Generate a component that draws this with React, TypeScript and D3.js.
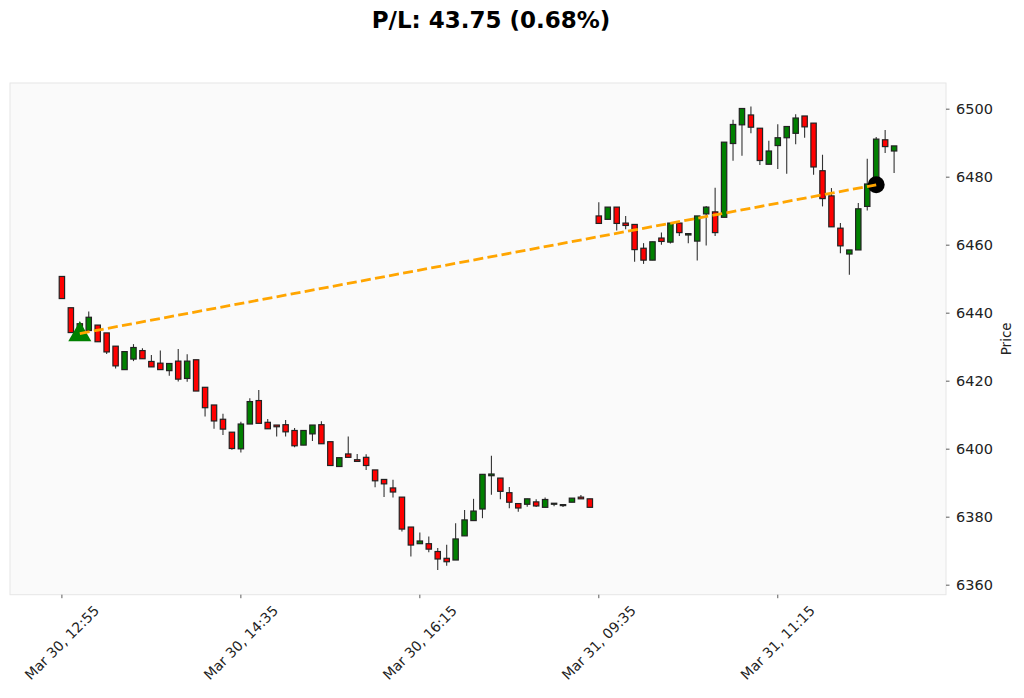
import React from "react";
import * as d3 from "d3";

const opens = [6450.8,6441.6,6436.9,6434.9,6436.5,6434.2,6430.3,6423.4,6426.5,6429.0,6425.8,6425.3,6423.1,6425.9,6420.8,6426.3,6418.2,6413.0,6408.8,6405.0,6400.1,6407.4,6414.3,6407.9,6407.1,6407.2,6405.5,6401.2,6404.5,6407.2,6402.2,6394.9,6398.6,6396.9,6397.6,6393.9,6391.1,6388.6,6385.9,6377.1,6372.2,6372.2,6369.9,6367.9,6367.4,6374.5,6379.0,6382.4,6392.2,6391.5,6387.2,6384.0,6383.8,6384.5,6382.9,6384.0,6383.6,6384.4,6385.9,6385.4,6468.6,6467.6,6471.2,6466.5,6466.1,6459.1,6455.6,6462.1,6460.9,6466.5,6463.0,6461.2,6469.2,6469.8,6468.2,6489.9,6495.4,6498.3,6494.4,6483.8,6489.3,6491.6,6492.9,6498.0,6495.9,6481.9,6474.5,6465.0,6457.4,6458.6,6471.4,6477.7,6491.0,6487.7];
const highs = [6450.8,6441.6,6437.5,6440.5,6436.5,6434.2,6430.3,6428.7,6430.9,6429.7,6427.7,6429.0,6425.2,6429.5,6427.9,6426.3,6418.2,6413.0,6410.4,6405.0,6408.1,6415.0,6417.4,6408.9,6407.1,6408.6,6406.2,6405.5,6407.1,6408.2,6402.2,6397.5,6403.7,6398.6,6398.5,6393.9,6391.1,6391.0,6385.9,6377.1,6375.5,6374.3,6370.9,6371.9,6378.2,6382.1,6385.4,6392.6,6398.1,6391.5,6388.9,6384.0,6385.4,6385.3,6385.8,6384.2,6383.8,6385.6,6386.5,6385.4,6472.6,6471.2,6471.2,6468.6,6466.1,6460.6,6461.0,6463.7,6466.5,6466.5,6463.4,6468.6,6471.5,6476.9,6490.3,6496.9,6500.2,6500.8,6494.4,6490.7,6495.6,6494.9,6498.5,6498.0,6495.9,6486.6,6476.8,6466.5,6458.6,6472.4,6485.4,6491.8,6493.9,6489.2];
const lows = [6444.3,6434.3,6433.9,6434.9,6431.6,6428.0,6423.7,6423.4,6425.9,6426.6,6424.2,6423.4,6421.6,6419.9,6419.8,6417.1,6409.6,6406.0,6404.2,6399.8,6399.0,6407.4,6407.6,6406.0,6403.7,6403.7,6400.6,6401.2,6402.4,6401.6,6395.2,6394.9,6397.6,6396.4,6393.9,6388.8,6385.9,6385.8,6375.8,6368.4,6372.2,6369.7,6364.5,6365.7,6367.4,6374.5,6379.0,6379.7,6386.6,6385.3,6382.6,6381.6,6383.1,6383.0,6382.9,6383.2,6383.0,6384.4,6385.4,6382.9,6466.4,6467.6,6464.3,6464.7,6455.1,6454.5,6455.6,6460.1,6460.5,6462.7,6460.6,6455.5,6459.9,6462.7,6468.2,6484.8,6486.3,6492.9,6483.6,6483.8,6482.4,6481.0,6489.7,6491.6,6480.7,6471.4,6465.4,6457.6,6451.3,6458.6,6470.2,6477.7,6487.1,6481.2];
const closes = [6444.3,6434.3,6433.9,6438.8,6431.6,6428.6,6424.5,6428.7,6429.9,6426.6,6424.2,6423.4,6425.2,6420.6,6425.9,6417.1,6412.2,6408.3,6405.9,6400.2,6407.4,6414.0,6407.6,6406.0,6406.6,6405.1,6401.0,6405.5,6407.1,6401.6,6395.2,6397.5,6397.6,6396.4,6395.2,6390.7,6389.8,6387.4,6376.5,6371.8,6373.0,6370.6,6367.7,6366.9,6373.6,6379.2,6381.8,6392.6,6392.7,6387.6,6384.4,6382.7,6385.4,6383.3,6385.2,6384.1,6383.7,6385.6,6385.4,6382.9,6466.4,6471.2,6466.4,6465.8,6458.7,6455.6,6461.0,6461.1,6466.5,6463.7,6463.4,6468.6,6471.2,6463.7,6490.3,6495.5,6500.2,6494.7,6484.9,6487.7,6491.6,6494.9,6497.4,6494.8,6483.0,6473.7,6465.4,6459.8,6458.6,6470.7,6478.0,6491.2,6489.0,6489.2];

const tickIndices = [0, 20, 40, 60, 80];
const tickLabels = ["Mar 30, 12:55", "Mar 30, 14:35", "Mar 30, 16:15", "Mar 31, 09:35", "Mar 31, 11:15"];
const priceTicks = [6360, 6380, 6400, 6420, 6440, 6460, 6480, 6500];

const entryIndex = 2;
const entryPrice = 6434.0;
const exitIndex = 91;
const exitPrice = 6477.75;
const titleText = "P/L: 43.75 (0.68%)";

const W = 1024, H = 698;
const L = 10, R = 946, T = 83, B = 594.7;
const FONT = "'DejaVu Sans', sans-serif";

export default function App() {
  const x = d3.scaleLinear().domain([-5.8, 98.8]).range([L, R]);
  const y = d3.scaleLinear().domain([6357.2, 6507.7]).range([B, T]);
  const bw = (x(1) - x(0)) * 0.6;
  const tri = d3.symbol().type(d3.symbolTriangle).size(230)();
  const lineGen = d3.line<[number, number]>().x(d => x(d[0])).y(d => y(d[1]));
  const tradeLine = lineGen([[entryIndex, entryPrice], [exitIndex, exitPrice]]) || "";

  return (
    <div style={{ position: "absolute", left: 0, top: 0 }}>
      <svg width={W} height={H} style={{ display: "block", background: "#fff" }}>
        <rect x={L} y={T} width={R - L} height={B - T} fill="#fafafa" stroke="#e6e6e6" strokeWidth={1} />
        <text x={491} y={28} textAnchor="middle" fontFamily={FONT} fontWeight="bold" fontSize={23} fill="#000">{titleText}</text>
        {opens.map((o, i) => {
          const c = closes[i];
          const up = c >= o;
          const top = y(Math.max(o, c));
          const bot = y(Math.min(o, c));
          return (
            <g key={i}>
              <line x1={x(i)} x2={x(i)} y1={y(highs[i])} y2={y(lows[i])} stroke="#333" strokeWidth={1.1} />
              <rect x={x(i) - bw / 2} y={top} width={bw} height={Math.max(bot - top, 1)}
                fill={up ? "#008000" : "#ff0000"} stroke="#222" strokeWidth={1.2} />
            </g>
          );
        })}
        <path d={tri} transform={`translate(${x(entryIndex)},${y(entryPrice) + 1})`} fill="#008000" />
        <circle cx={x(exitIndex)} cy={y(exitPrice)} r={8.5} fill="#000" />
        <path d={tradeLine} fill="none" stroke="#ffa500" strokeWidth={2.8} strokeDasharray="10,4.3" />
        {priceTicks.map(v => (
          <g key={v}>
            <line x1={R} x2={R + 3.5} y1={y(v)} y2={y(v)} stroke="#333" strokeWidth={0.8} />
            <text x={R + 10} y={y(v)} dy="0.35em" fontFamily={FONT} fontSize={14.5} fill="#222">{v}</text>
          </g>
        ))}
        <text transform={`translate(1011,${(T + B) / 2}) rotate(-90)`} textAnchor="middle" fontFamily={FONT} fontSize={13.5} fill="#222">Price</text>
        {tickIndices.map((ti, k) => (
          <g key={ti}>
            <line x1={x(ti)} x2={x(ti)} y1={B} y2={B + 3.5} stroke="#333" strokeWidth={0.8} />
            <text transform={`translate(${x(ti)},${B + 48}) rotate(-45)`} textAnchor="middle" dy="0.35em" fontFamily={FONT} fontSize={14} fill="#222">{tickLabels[k]}</text>
          </g>
        ))}
      </svg>
    </div>
  );
}
